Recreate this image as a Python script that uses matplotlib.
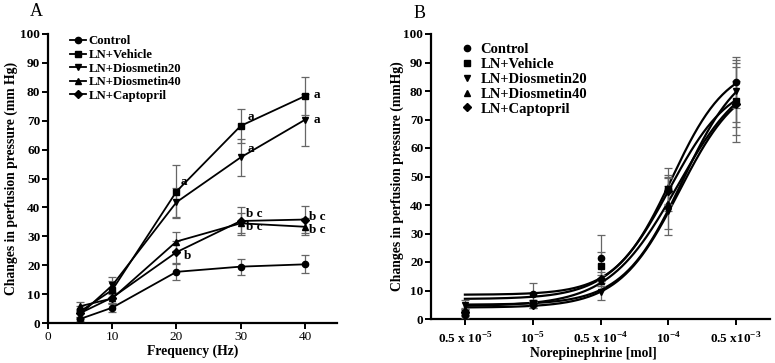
import numpy as np
import matplotlib
matplotlib.use("Agg")
import matplotlib.pyplot as plt
from matplotlib.lines import Line2D

plt.rcParams['font.family'] = ['Liberation Serif', 'DejaVu Serif']
plt.rcParams['mathtext.fontset'] = 'custom'
plt.rcParams['mathtext.rm'] = 'Liberation Serif:bold'
plt.rcParams['mathtext.bf'] = 'Liberation Serif:bold'

groups = ["Control", "LN+Vehicle", "LN+Diosmetin20", "LN+Diosmetin40", "LN+Captopril"]
markers = ["o", "s", "v", "^", "D"]
msizes = [4.5, 4.5, 5, 5, 3.8]

# panel A: frequency response
freq = [5, 10, 20, 30, 40]
a_mean = {
    "Control":        [1.4, 5.3, 17.7, 19.5, 20.3],
    "LN+Vehicle":     [4.0, 11.4, 45.5, 68.2, 78.5],
    "LN+Diosmetin20": [3.0, 13.0, 41.8, 57.3, 70.3],
    "LN+Diosmetin40": [5.8, 8.5, 28.2, 34.5, 33.3],
    "LN+Captopril":   [3.4, 8.8, 24.5, 35.3, 35.8],
}
a_err = {
    "Control":        [0.8, 1.6, 2.8, 2.8, 3.1],
    "LN+Vehicle":     [2.0, 3.0, 9.2, 6.0, 6.5],
    "LN+Diosmetin20": [1.5, 3.0, 5.0, 6.5, 9.0],
    "LN+Diosmetin40": [1.6, 2.0, 3.2, 3.5, 3.0],
    "LN+Captopril":   [1.5, 2.0, 3.8, 4.8, 4.8],
}
a_notes = [("a", 20.6, 48.8), ("a", 31.1, 71.3), ("a", 41.3, 78.9),
           ("a", 31.1, 60.2), ("a", 41.3, 70.2), ("b", 21.2, 23.2),
           ("b c", 30.9, 37.7), ("b c", 30.9, 33.2),
           ("b c", 40.6, 36.7), ("b c", 40.6, 32.2)]

# panel B: norepinephrine dose response
dose_labels = ["0.5 x 10$^{-5}$", "10$^{-5}$", "0.5 x 10$^{-4}$", "10$^{-4}$", "0.5 x10$^{-3}$"]
dose_pos = [1, 2, 3, 4, 5]
b_mean = {
    "Control":        [1.3, 8.7, 21.5, 45.5, 83.0],
    "LN+Vehicle":     [2.0, 5.5, 18.5, 45.5, 76.5],
    "LN+Diosmetin20": [5.0, 5.0, 9.5, 38.0, 80.0],
    "LN+Diosmetin40": [3.0, 5.5, 13.5, 40.5, 76.0],
    "LN+Captopril":   [2.5, 5.0, 14.0, 45.0, 75.5],
}
b_err = {
    "Control":        [0.8, 4.0, 8.0, 7.5, 9.0],
    "LN+Vehicle":     [1.0, 1.0, 5.0, 5.0, 12.0],
    "LN+Diosmetin20": [1.5, 1.0, 3.0, 8.5, 11.0],
    "LN+Diosmetin40": [1.0, 1.0, 2.0, 9.0, 14.0],
    "LN+Captopril":   [1.0, 1.0, 2.5, 5.0, 8.0],
}
# sigmoid fit parameters: bottom, top, midpoint (tick position), slope
b_fit = {
    "Control":        [8.5, 90.0, 4.05, 1.06],
    "LN+Vehicle":     [7.0, 84.5, 4.02, 0.98],
    "LN+Diosmetin20": [5.0, 92.0, 4.21, 0.99],
    "LN+Diosmetin40": [4.5, 88.5, 4.13, 0.86],
    "LN+Captopril":   [4.0, 85.5, 4.16, 0.98],
}

fig = plt.figure(figsize=(7.75, 3.63), dpi=100)
axA = fig.add_axes([48/775, 1-323/363, 289/775, 289/363])
axB = fig.add_axes([431/775, 1-319/363, 339/775, 285/363])

ecol = "#666666"
for g, m, ms in zip(groups, markers, msizes):
    axA.errorbar(freq, a_mean[g], yerr=a_err[g], color="black", ecolor=ecol,
                 elinewidth=0.9, capsize=3, capthick=0.9, lw=1.3,
                 marker=m, ms=ms, zorder=3)
for txt, x, y in a_notes:
    axA.text(x, y, txt, fontsize=9.5, fontweight="bold", ha="left", va="center")

xs = np.linspace(1, 5, 200)
for g, m, ms in zip(groups, markers, msizes):
    axB.errorbar(dose_pos, b_mean[g], yerr=b_err[g], fmt=m, color="black",
                 ecolor=ecol, elinewidth=0.9, capsize=3, capthick=0.9,
                 ms=ms, zorder=3)
    bot, top, mid, h = b_fit[g]
    axB.plot(xs, bot + (top - bot) / (1 + 10 ** ((mid - xs) * h)),
             color="black", lw=1.6)

handlesA = [Line2D([], [], color="black", lw=1.3, marker=m, ms=ms)
            for m, ms in zip(markers, msizes)]
handlesB = [Line2D([], [], color="black", lw=0, marker=m, ms=ms)
            for m, ms in zip(markers, msizes)]

axA.set_xlim(0, 45)
axA.set_ylim(0, 100)
axA.set_xticks([0, 10, 20, 30, 40])
axA.set_yticks(range(0, 101, 10))
axA.set_xlabel("Frequency (Hz)", fontsize=9.8, fontweight="bold")
axA.set_ylabel("Changes in perfusion pressure (mm Hg)", fontsize=9.8, fontweight="bold")
axA.xaxis.set_label_coords(0.5, -0.076)
axA.yaxis.set_label_coords(-0.104, 0.5)
axA.legend(handlesA, groups, loc="upper left", bbox_to_anchor=(0.075, 0.995),
           frameon=False, prop={"weight": "bold", "size": 9.2}, handlelength=1.3,
           handletextpad=0.2, labelspacing=0.12, borderaxespad=0, borderpad=0)

axB.set_xlim(0.5, 5.5)
axB.set_ylim(0, 100)
axB.set_xticks(dose_pos)
axB.set_xticklabels(dose_labels)
axB.set_yticks(range(0, 101, 10))
axB.set_xlabel("Norepinephrine [mol]", fontsize=9.8, fontweight="bold")
axB.set_ylabel("Changes in perfusion pressure (mmHg)", fontsize=9.8, fontweight="bold")
axB.xaxis.set_label_coords(0.48, -0.098)
axB.yaxis.set_label_coords(-0.080, 0.5)
axB.legend(handlesB, groups, loc="upper left", bbox_to_anchor=(0.09, 0.97),
           frameon=False, prop={"weight": "bold", "size": 10.5}, handlelength=0.8,
           handletextpad=0.5, labelspacing=0.12, borderaxespad=0, borderpad=0)

for ax in (axA, axB):
    for s in ("top", "right"):
        ax.spines[s].set_visible(False)
    for s in ("left", "bottom"):
        ax.spines[s].set_linewidth(1.6)
    ax.tick_params(width=1.4, length=4, labelsize=9.5, pad=1.5)
    for lab in ax.get_yticklabels():
        lab.set_fontweight("bold")
for lab in axB.get_xticklabels():
    lab.set_fontweight("bold")
axB.tick_params(axis="x", pad=5)

fig.text(36/775, 1-12/363, "A", fontsize=13, ha="center", va="center")
fig.text(420/775, 1-14/363, "B", fontsize=13, ha="center", va="center")

fig.savefig("out.png", dpi=100)
